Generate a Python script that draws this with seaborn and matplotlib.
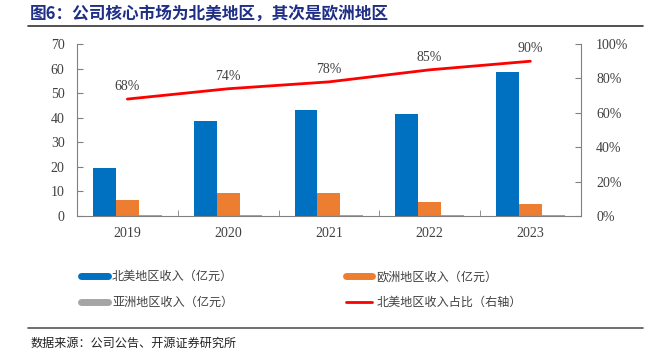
import numpy as np
import pandas as pd
import matplotlib
matplotlib.use("Agg")
import matplotlib.pyplot as plt
from matplotlib.lines import Line2D
import seaborn as sns

years = ["2019", "2020", "2021", "2022", "2023"]
na_rev = [19.7, 38.8, 43.2, 41.5, 58.7]
eu_rev = [6.7, 9.4, 9.4, 5.6, 4.9]
asia_rev = [0.4, 0.4, 0.4, 0.4, 0.4]
na_share = [0.68, 0.74, 0.78, 0.85, 0.90]
share_labels = ["68%", "74%", "78%", "85%", "90%"]

series_names = ["北美地区收入（亿元）", "欧洲地区收入（亿元）", "亚洲地区收入（亿元）"]
line_name = "北美地区收入占比（右轴）"
colors = ["#0070C0", "#ED7D31", "#A5A5A5"]

sns.set_style("white")
cjk = ["Noto Sans CJK SC", "DejaVu Sans"]
serif = ["Liberation Serif", "DejaVu Serif"]
plt.rcParams["font.family"] = cjk

df = pd.DataFrame({
    "year": years * 3,
    "value": na_rev + eu_rev + asia_rev,
    "series": [series_names[0]] * 5 + [series_names[1]] * 5 + [series_names[2]] * 5,
})

fig = plt.figure(figsize=(6.55, 3.58), dpi=100)
ax = fig.add_axes([0.1176, 0.3966, 0.769, 0.4804])

sns.barplot(data=df, x="year", y="value", hue="series", palette=colors,
            width=0.68, ax=ax, legend=False, saturation=1, linewidth=0)
ax.set_ylim(0, 70)
ax.set_yticks(range(0, 71, 10))
ax.set_xlim(-0.5, 4.5)
ax.set_xlabel("")
ax.set_ylabel("")

ax2 = ax.twinx()
sns.lineplot(x=np.arange(len(years)), y=na_share, color="#FF0000", lw=2, ax=ax2)
ax2.set_ylim(0, 1)
ax2.set_yticks(np.arange(0, 1.01, 0.2))
ax2.set_yticklabels([f"{int(round(v * 100))}%" for v in np.arange(0, 1.01, 0.2)])
for i, (v, s) in enumerate(zip(na_share, share_labels)):
    ax2.annotate(s, (i, v), xytext=(0, 9), textcoords="offset points",
                 ha="center", va="center", fontsize=10, family=serif, color="#404040")

spine_c = "#808080"
for a in (ax, ax2):
    a.spines["top"].set_visible(False)
    for sp in ("left", "right", "bottom"):
        a.spines[sp].set_color(spine_c)
        a.spines[sp].set_linewidth(0.8)
ax.spines["right"].set_visible(False)
ax2.spines["left"].set_visible(False)
ax2.spines["bottom"].set_visible(False)

ax.tick_params(axis="y", direction="in", length=4, color=spine_c, labelsize=10,
               labelcolor="#404040", left=True, pad=9)
ax2.tick_params(axis="y", direction="in", length=4, color=spine_c, labelsize=10,
                labelcolor="#404040", right=True, pad=11)
for lab in ax.get_yticklabels() + ax2.get_yticklabels():
    lab.set_family(serif)

ax.set_xticks(range(len(years)))
ax.set_xticklabels(years)
ax.tick_params(axis="x", length=0, labelsize=10, labelcolor="#404040", pad=8)
for lab in ax.get_xticklabels():
    lab.set_family(serif)
ax.set_xticks(np.arange(0.5, len(years) - 1, 1), minor=True)
ax.tick_params(axis="x", which="minor", direction="in", length=4, color=spine_c, bottom=True)

handles = [
    Line2D([], [], color=colors[0], lw=5),
    Line2D([], [], color=colors[2], lw=5),
    Line2D([], [], color=colors[1], lw=5),
    Line2D([], [], color="#FF0000", lw=2),
]
labels = [series_names[0], series_names[2], series_names[1], line_name]
fig.legend(handles, labels, ncol=2, loc="upper left", bbox_to_anchor=(0.124, 0.245),
           frameon=False, fontsize=8.7, handlelength=2.2, handletextpad=0.35,
           labelspacing=1.05, columnspacing=9.3, borderpad=0, borderaxespad=0,
           labelcolor="#404040")

fig.text(0.046, 0.961, "图6：公司核心市场为北美地区，其次是欧洲地区", fontsize=12,
         fontweight="bold", color="#1F2F86", va="center", ha="left")
fig.add_artist(Line2D([0.043, 0.982], [1 - 26 / 358] * 2, color="#333333", lw=1.2))
fig.add_artist(Line2D([0.043, 0.982], [1 - 328 / 358] * 2, color="#555555", lw=1.2))
fig.text(0.046, 1 - 343 / 358, "数据来源：公司公告、开源证券研究所", fontsize=8.7,
         color="#222222", va="center", ha="left")

fig.savefig("out.png", dpi=100)
